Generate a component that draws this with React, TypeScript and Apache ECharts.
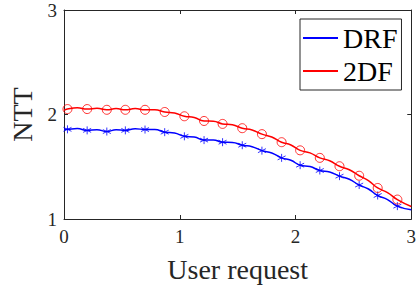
import React, { useEffect, useRef } from "react";
import * as echarts from "echarts";

const xMarks = [0.03, 0.2, 0.37, 0.53, 0.7, 0.87, 1.04, 1.21, 1.37, 1.54, 1.71, 1.88, 2.04, 2.21, 2.38, 2.55, 2.71, 2.88];
const drfMarks = [1.858, 1.848, 1.837, 1.848, 1.856, 1.831, 1.791, 1.755, 1.735, 1.706, 1.654, 1.585, 1.515, 1.464, 1.41, 1.325, 1.225, 1.123];
const twoDfMarks = [2.052, 2.052, 2.045, 2.045, 2.045, 2.024, 1.983, 1.938, 1.91, 1.869, 1.812, 1.735, 1.657, 1.585, 1.505, 1.414, 1.297, 1.186];
// curve values read between the markers (wave crests)
const xMids = [0.115, 0.285, 0.45, 0.615, 0.785, 0.955, 1.125, 1.29, 1.455, 1.625, 1.795, 1.96, 2.125, 2.295, 2.465, 2.63, 2.795];
const drfMids = [1.865, 1.855, 1.855, 1.864, 1.856, 1.823, 1.785, 1.757, 1.733, 1.692, 1.632, 1.562, 1.502, 1.449, 1.38, 1.287, 1.186];
const twoDfMids = [2.064, 2.06, 2.057, 2.057, 2.046, 2.015, 1.972, 1.936, 1.901, 1.852, 1.785, 1.708, 1.633, 1.557, 1.471, 1.367, 1.253];
const xEnds = [0, 3];
const drfEnds = [1.856, 1.088];
const twoDfEnds = [2.04, 1.12];
const xTicks = [0, 1, 2, 3];
const yTicks = [1, 2, 3];

const FONT = "'Liberation Serif', 'Times New Roman', serif";
const AX = "#262626";
const ASTERISK = "path://M0,-5L0,5M-4.33,-2.5L4.33,2.5M-4.33,2.5L4.33,-2.5";

function curve(marks: number[], mids: number[], ends: number[]) {
  const pts: number[][] = [[xEnds[0], ends[0]]];
  xMarks.forEach((x, i) => {
    pts.push([x, marks[i]]);
    if (i < xMids.length) pts.push([xMids[i], mids[i]]);
  });
  pts.push([xEnds[1], ends[1]]);
  return pts;
}

export default function App() {
  const ref = useRef<HTMLDivElement>(null);
  useEffect(() => {
    const chart = echarts.init(ref.current!, null, { renderer: "svg" });
    const axisCommon = {
      type: "value" as const,
      axisLine: { show: true, onZero: false, lineStyle: { color: AX, width: 1 } },
      axisTick: { show: true, inside: true, length: 4, lineStyle: { color: AX } },
      splitLine: { show: false },
    };
    chart.setOption({
      animation: false,
      backgroundColor: "#ffffff",
      grid: { left: 64, right: 7, top: 10, bottom: 67 },
      legend: {
        left: 300,
        top: 19,
        orient: "vertical",
        padding: [5, 4, 5, 3],
        itemGap: 5,
        itemWidth: 35,
        itemHeight: 2,
        borderColor: AX,
        borderWidth: 1,
        backgroundColor: "#ffffff",
        textStyle: { fontFamily: FONT, fontSize: 28, color: "#000" },
        data: [
          { name: "DRF", icon: "rect", itemStyle: { color: "#0000ff" } },
          { name: "2DF", icon: "rect", itemStyle: { color: "#ff0000" } },
        ],
      },
      xAxis: [
        {
          ...axisCommon,
          min: xTicks[0],
          max: xTicks[xTicks.length - 1],
          interval: 1,
          position: "bottom",
          name: "User request",
          nameLocation: "middle",
          nameGap: 36,
          nameTextStyle: { fontFamily: FONT, fontSize: 28, color: AX },
          axisLabel: { fontFamily: FONT, fontSize: 19, color: AX, margin: 8 },
        },
        {
          ...axisCommon,
          min: xTicks[0],
          max: xTicks[xTicks.length - 1],
          interval: 1,
          position: "top",
          axisLabel: { show: false },
        },
      ],
      yAxis: [
        {
          ...axisCommon,
          min: yTicks[0],
          max: yTicks[yTicks.length - 1],
          interval: 1,
          position: "left",
          name: "NTT",
          nameLocation: "middle",
          nameGap: 22,
          nameTextStyle: { fontFamily: FONT, fontSize: 28, color: AX },
          axisLabel: { fontFamily: FONT, fontSize: 19, color: AX, margin: 7 },
        },
        {
          ...axisCommon,
          min: yTicks[0],
          max: yTicks[yTicks.length - 1],
          interval: 1,
          position: "right",
          axisLabel: { show: false },
        },
      ],
      series: [
        {
          name: "DRF",
          type: "line",
          smooth: 0.5,
          showSymbol: false,
          data: curve(drfMarks, drfMids, drfEnds),
          lineStyle: { color: "#0000ff", width: 1.5 },
          itemStyle: { color: "#0000ff" },
          z: 2,
        },
        {
          name: "2DF",
          type: "line",
          smooth: 0.5,
          showSymbol: false,
          data: curve(twoDfMarks, twoDfMids, twoDfEnds),
          lineStyle: { color: "#ff0000", width: 1.5 },
          itemStyle: { color: "#ff0000" },
          z: 2,
        },
        {
          name: "DRF markers",
          type: "scatter",
          symbol: ASTERISK,
          symbolSize: 8,
          data: xMarks.map((x, i) => [x, drfMarks[i]]),
          itemStyle: { color: "none", borderColor: "#0000ff", borderWidth: 1 },
          z: 3,
        },
        {
          name: "2DF markers",
          type: "scatter",
          symbol: "circle",
          symbolSize: 9,
          data: xMarks.map((x, i) => [x, twoDfMarks[i]]),
          itemStyle: { color: "none", borderColor: "#ff0000", borderWidth: 1 },
          z: 3,
        },
      ],
    });
    return () => chart.dispose();
  }, []);
  return (
    <div
      ref={ref}
      style={{ position: "fixed", left: 0, top: 0, width: 419, height: 288, background: "#fff" }}
    />
  );
}
